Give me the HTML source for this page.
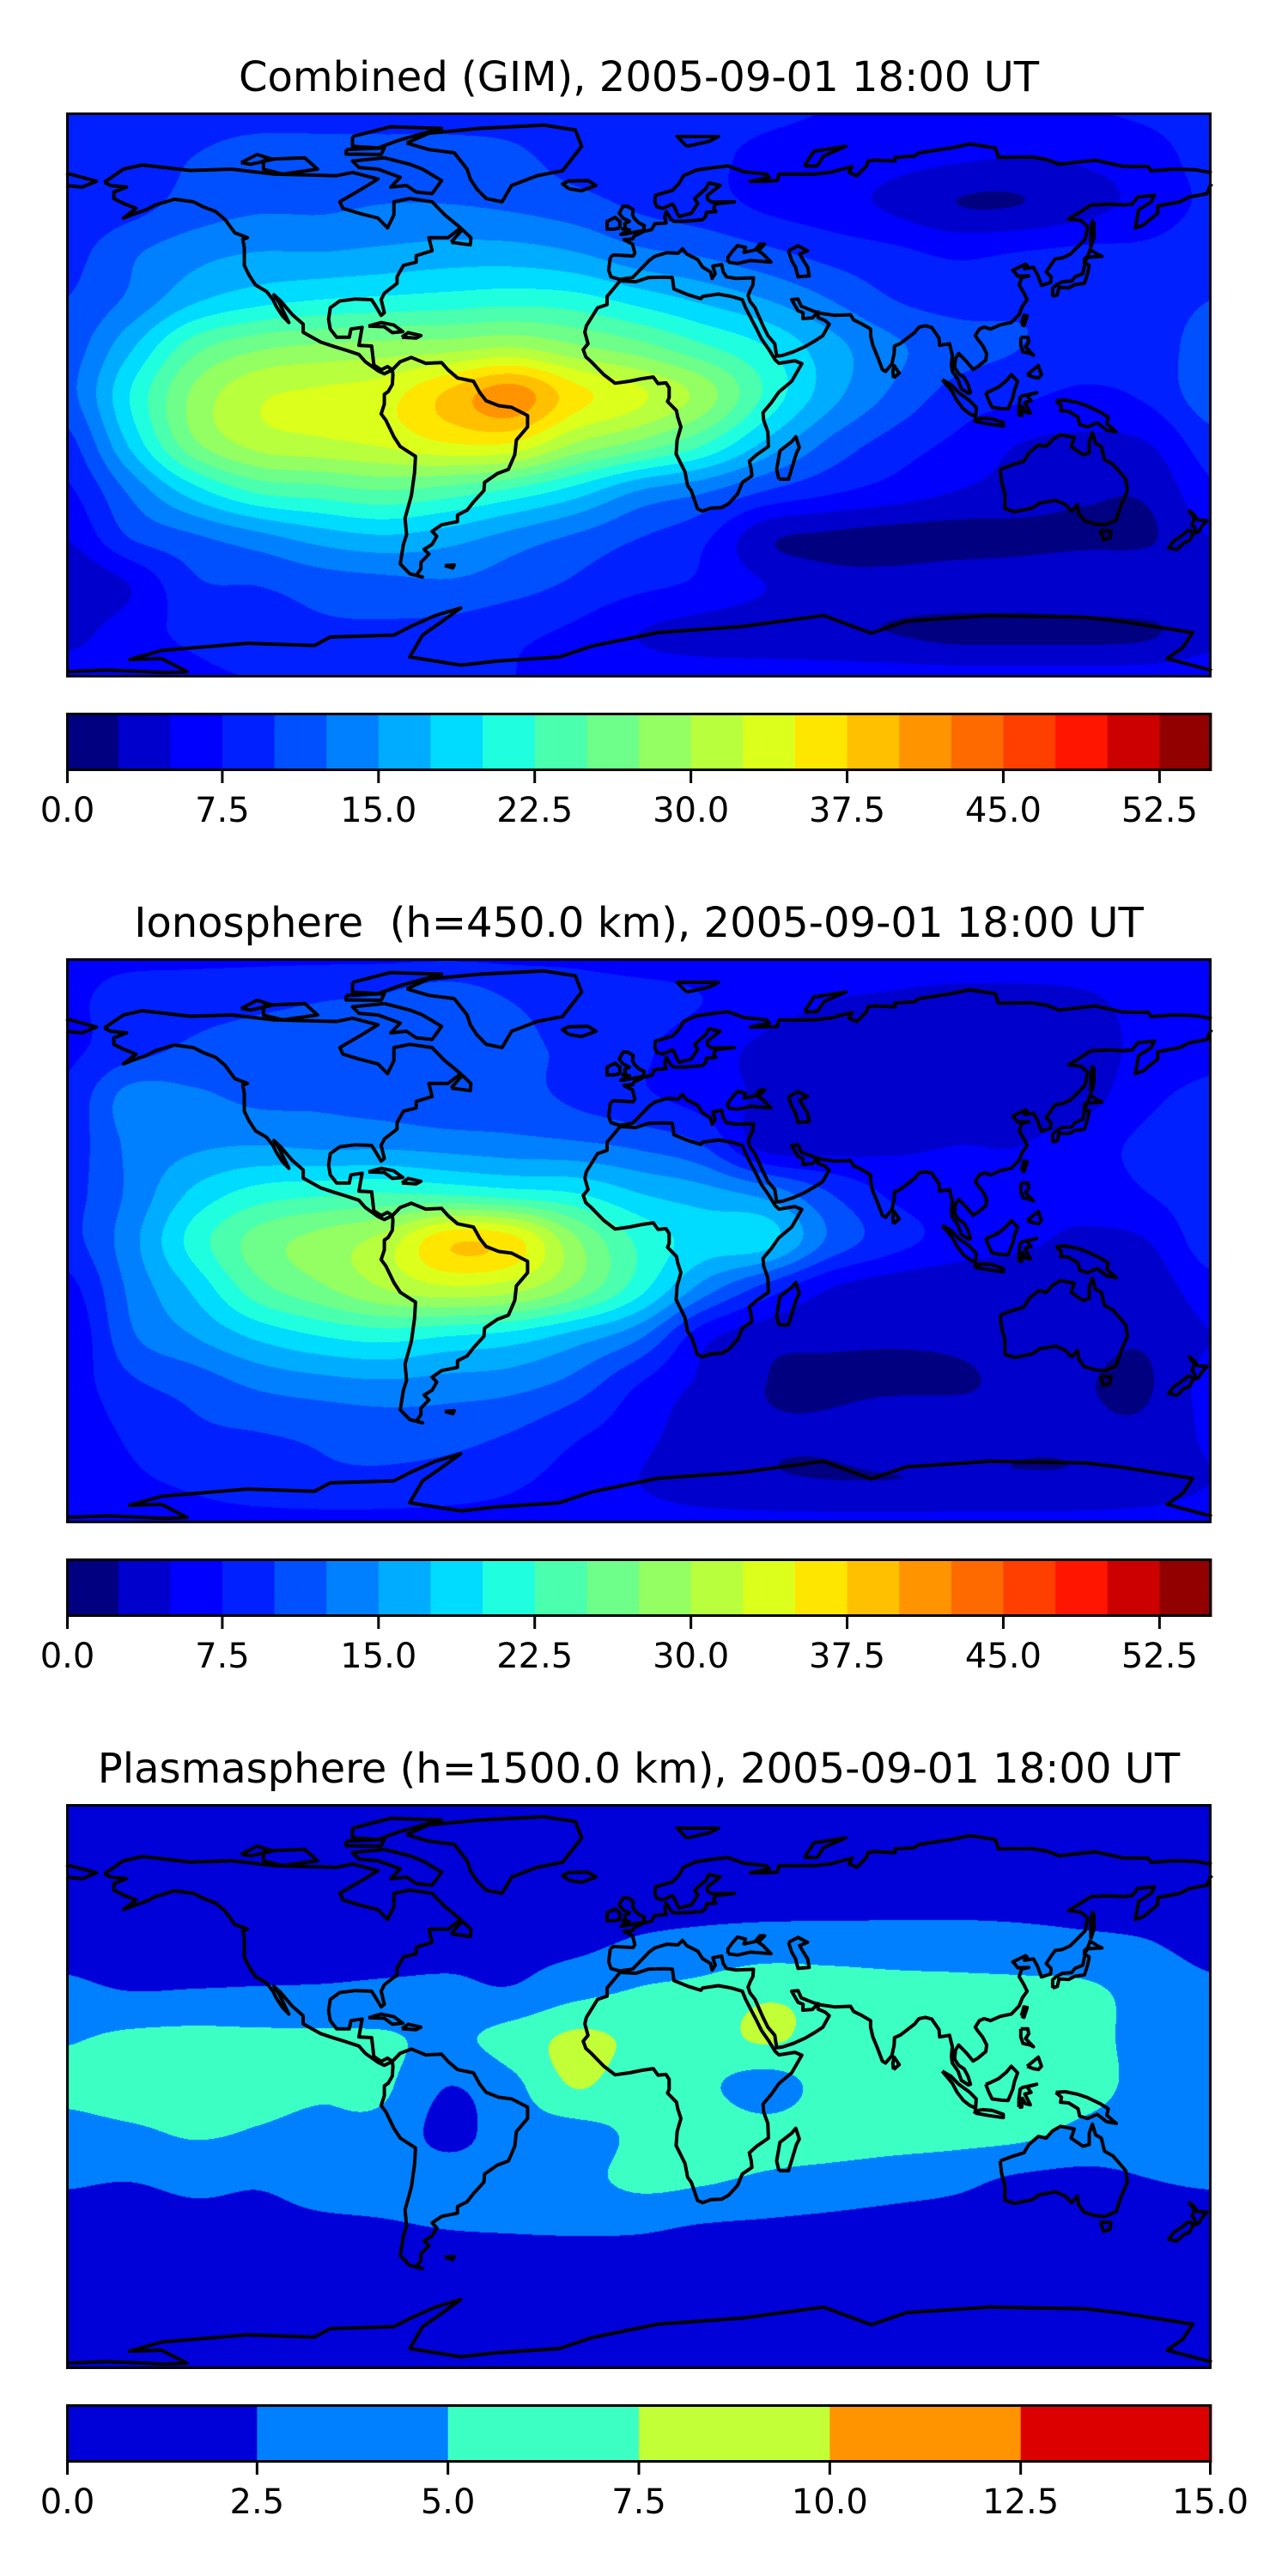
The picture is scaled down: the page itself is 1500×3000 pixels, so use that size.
<!DOCTYPE html>
<html><head><meta charset="utf-8">
<style>
html,body{margin:0;padding:0;background:#fff;}
#wrap{position:relative;width:1500px;height:3000px;overflow:hidden;background:#fff;}
canvas{position:absolute;}
svg{position:absolute;left:0;top:0;}
</style></head>
<body>
<div id="wrap">
<canvas id="c0" width="1334" height="658" style="left:77px;top:131px"></canvas>
<canvas id="c1" width="1334" height="658" style="left:77px;top:1116px"></canvas>
<canvas id="c2" width="1334" height="658" style="left:77px;top:2101px"></canvas>
<svg id="ov" width="1500" height="3000" xmlns="http://www.w3.org/2000/svg"></svg>
</div>
<script>
const lons = [-180,-160,-140,-120,-100,-80,-60,-40,-20,0,20,40,60,80,100,120,140,160,180];
const lats = [90,75,60,45,30,15,0,-15,-30,-45,-60,-75,-90];
const combinedGrid = [
[9,9,9,9,9,9,9,9,9,9,8.5,8,7.5,7.5,7.5,7.5,7.5,8,9],
[8.5,9,10,11,11,11,11,10.5,9,8.5,8,7,6.5,6,5.5,5,5.5,6.5,8.5],
[8,9,11,12,12,12.5,12.5,12,11,9.5,8.5,7,6,4.5,2.5,2.5,4,6,8],
[9,12,14,15,15,15.5,16,16,15,13,12,10.5,9,8,7,7.5,8,8,9],
[10,13,17,19,20,20.5,21,21.5,21,19,17,15,12.5,10,9,9.5,9.5,9,10],
[11,17,24,27,28,28.5,29,30,28,26,23,20,16,13,11,10,9,9,11],
[11.5,20,28,32,33,34,38,41.5,36,33,29,22,16,12,9,8,7,8,11.5],
[9,18,27,31,32,33,35,35,30,27,23,17,12,9,7,5,4.5,5,9],
[7,13,19,23,24,25,24,22,19,15,13,10,8,6.5,5,4,3,3,7],
[5,10,12,14,16,17,16,14,12,10,8,3,2,1.5,1.5,1.8,2,2.2,5],
[2.5,5,9.5,10,11,11.5,12,11,9.5,8,7,5,3.5,3.5,4,4,4.5,4.5,2.5],
[4,6.5,8,9,9.5,9.5,9,8,7,5,4,3.5,3,2.5,1.8,1.8,1.8,2.2,4],
[6.5,6.5,7,7.5,7.5,7.5,7.5,7.5,7,6.5,6.5,6.5,6.5,6.5,6.5,6.5,6.5,6.5,6.5]];
const ionoGrid = [
[7,7,7,7,7,7,7,7,7,6.5,6.5,6.5,6.5,6.5,6.5,6.5,6.5,6.5,7],
[7,8.5,9,9.5,10,10.5,12,10,9,8.5,7.5,6,5,4.5,4,4,4.5,6,7],
[7,9,10.5,11,11,11,11,10.5,9.5,8,6,4.5,3.5,3,2.7,2.7,3.5,6,7],
[8,13.5,13,12,12,11.5,11,11,9.5,8,6.5,4.5,3.5,3,3,3,4,7,8],
[8.5,13,14.5,15,14.5,14.5,14,13.5,13,12,10,4,4,4.5,5,5,6.5,8,8.5],
[9,13,18,21,22,22.5,22,21,20,17.5,16,14,10,7,6,5.5,6,7.5,9],
[9,14,21,26,28.5,31,37,36,28,22,19,18.5,12,8.5,6.5,5.5,4.5,5,9],
[6.5,13,18,24,27,30,32,31,27,21,14,9,5,3.5,3,3,3,3.5,6.5],
[5,12,15,18,20,21,20,19,16.5,13,6,3.5,3,2.8,2.8,3,3,2.8,5],
[6,9.5,11,13,14,14.5,14,13.5,11.5,7.5,4.5,2.5,2,2,2.3,2.8,2.6,2.3,6],
[5.5,8,9.5,10,10.5,11,11,10,8,6,3.5,2.8,3,4.5,3.5,2.8,2.8,3,5.5],
[5,7,8,9,9.5,9.5,9,8,6.5,5,3.5,2.8,2.5,2.5,2.7,2.7,2.8,3.5,5],
[6,6,6.5,6.5,6.5,6.5,6.5,6.5,6,6,6,6,6,6,6,6,6,6,6]];
const plasmaGrid = [
[1,1,1,1,1,1,1,1,1,1,1,1,1,1,1,1,1,1,1],
[1.2,1.2,1.2,1.2,1.2,1.2,1.2,1.2,1.2,1.2,1.2,1.2,1.2,1.2,1.2,1.2,1.2,1.2,1.2],
[1.5,1.5,1.5,1.5,1.5,1.5,1.5,1.5,1.5,1.5,1.6,1.7,1.7,1.7,1.7,1.7,1.6,1.5,1.5],
[1.8,1.5,1.5,1.5,1.3,1.5,1.8,2,2,2.8,3.2,3.5,3.5,3.5,3.5,3.3,3,2.6,1.8],
[3,2.5,2.6,2.7,2.8,3,3,2.7,4.2,5.2,5.7,7,6.5,6,5.8,5.7,5.5,4,3],
[4.8,5.5,5.7,5.5,5.4,5.3,4.5,6,8,7,6.5,7.8,6.5,6.3,6.3,6.3,6,4,4.2],
[5.6,6.2,6,5.4,5.2,5.3,2.5,4.3,7.6,5.8,5.5,3.8,6,6.3,6.3,6.2,5.8,4.3,4.2],
[4,4.5,5.2,4.8,4.5,4.2,1.8,3.8,4,5.5,6.5,6,6.2,6,5.8,5.5,4.3,3.8,3.8],
[2.7,2.5,3,2.7,3.2,3.5,3.8,3.5,4.2,5.5,5.2,4.5,4,3.5,3,2,1.8,2.4,2.7],
[1.5,1.5,1.8,2,2.1,2.2,2.5,2.6,2.7,2.7,2.2,2,1.8,1.6,1.5,1.5,1.5,1.5,1.5],
[1.2,1.2,1.2,1.2,1.2,1.2,1.2,1.2,1.2,1.2,1.2,1.2,1.2,1.2,1.2,1.2,1.2,1.2,1.2],
[1.2,1.2,1.2,1.2,1.2,1.2,1.2,1.2,1.2,1.2,1.2,1.2,1.2,1.2,1.2,1.2,1.2,1.2,1.2],
[1.2,1.2,1.2,1.2,1.2,1.2,1.2,1.2,1.2,1.2,1.2,1.2,1.2,1.2,1.2,1.2,1.2,1.2,1.2]];
const tecColors = ["#000080","#0000cc","#0000ff","#0020ff","#0050ff","#0080ff","#00acff","#00dcff","#1fffe0","#4affad","#6dff8a","#93ff63","#b8ff3e","#dcff1b","#ffe600","#ffc000","#ff9400","#ff6a00","#ff3f00","#ff1500","#cd0000","#930000"];
const plasmaColors = ["#0000d8","#0080ff","#3cffc3","#c3ff36","#ff9400","#dd0000"];
const tecTickLabels = ["0.0","7.5","15.0","22.5","30.0","37.5","45.0","52.5"];
const plasmaTickLabels = ["0.0","2.5","5.0","7.5","10.0","12.5","15.0"];
const titles = ["Combined (GIM), 2005-09-01 18:00 UT","Ionosphere  (h=450.0 km), 2005-09-01 18:00 UT","Plasmasphere (h=1500.0 km), 2005-09-01 18:00 UT"];

const coasts = {
"north-america":[[-168,66],[-162,70],[-156,71.3],[-141,69.6],[-128,70],[-115,68.5],[-95,68],[-90,69],[-82,67],[-87,64],[-94,60],[-93,58],[-88,56.5],[-82,55],[-79,52],[-77,56],[-77,60],[-72,61],[-65,60],[-61,56],[-56,52],[-60,49],[-66,49],[-65,45],[-70,43.5],[-70,41.5],[-74,40.5],[-76,37],[-76,35],[-80,32],[-81,30],[-80,26],[-81,25.2],[-82.7,28],[-84,30],[-89,30.2],[-94,29.6],[-97,27.5],[-97.5,24],[-97,21],[-95,18.5],[-91,18.5],[-90.5,21],[-87,21.5],[-88,16],[-84,15.8],[-83.3,10],[-81,8.5],[-79,9.5],[-77.5,8.5],[-80,7.3],[-82,8.2],[-86,11],[-88,13.2],[-92,14.5],[-96,15.7],[-100,17],[-105.5,20],[-105.5,22.5],[-109,25.5],[-112.5,29.5],[-114.7,31.5],[-113,29],[-110,23],[-112,25],[-114,28],[-115,30],[-117,32.5],[-120.5,34.5],[-122.5,37.5],[-124,40.5],[-124,46],[-124.5,48.5],[-123,49],[-127,50.5],[-130,54.5],[-133,57],[-137,58.5],[-140,60],[-146,60.8],[-152,59],[-155,57.5],[-158,56.5],[-162,55],[-158,58],[-162,59.5],[-165,61],[-165,63],[-161,64.5],[-166,65],[-168,66]],
"greenland":[[-73,78],[-66,81],[-50,82.5],[-30,83.5],[-20,82],[-18,77],[-22,72],[-24,69.5],[-32,68],[-40,65],[-43,60],[-48,61],[-51,64],[-53,67],[-54,70],[-58,75],[-66,76],[-73,78]],
"south-america":[[-77.5,8.5],[-75,11],[-71.5,12.3],[-67,10.5],[-62,10.7],[-60,8.5],[-57,6],[-52,5],[-50,1.5],[-48,-1],[-44,-2.5],[-40,-3],[-35,-5.5],[-35,-9],[-38.5,-13],[-39,-17.5],[-41,-22],[-44.5,-23.3],[-48.5,-26],[-48.7,-28.5],[-52,-32],[-54,-34.5],[-57,-36],[-57,-38],[-62,-39],[-65,-41],[-63.5,-42.5],[-65,-45],[-67.5,-46.5],[-66,-48],[-68.5,-50.5],[-68.5,-52.5],[-70,-54.5],[-68,-55],[-72,-54],[-75,-51],[-74,-45],[-73,-42],[-73.5,-37],[-71.5,-30],[-70.5,-23],[-70.2,-18],[-75,-15],[-77,-12],[-79.5,-7],[-81,-5],[-80,-2],[-80,1],[-78.8,1.8],[-77.5,4],[-77.3,7],[-77.5,8.5]],
"africa":[[-5.9,35.8],[-10,31],[-10,28.5],[-13,27.5],[-16.5,22],[-17,20],[-16,16.5],[-17.5,14.7],[-16.7,12.5],[-15,11],[-13.5,9.5],[-11,7],[-7.5,4.4],[-3,5],[1,5.8],[4.5,6.3],[6,4.3],[8.5,4.5],[9.5,3],[9.5,0],[9,-1.2],[11.8,-4],[12.2,-6],[13.2,-9],[12,-13],[11.7,-17.3],[14.5,-22.8],[15.3,-27],[16.5,-28.6],[18.4,-34.1],[20,-34.8],[22.5,-33.9],[26,-33.7],[28.2,-32.5],[31,-29.5],[32.5,-26],[35.5,-24],[35.3,-22],[34.7,-19.5],[37,-17.5],[40.7,-15],[40.5,-10.5],[39.2,-7],[39,-4.6],[41.5,-1.7],[44,1.7],[48,5],[51.2,10.4],[49,11.3],[44,10.5],[42.8,11.6],[41,14.5],[38.5,18],[37,21],[35.5,23.8],[33.5,27.6],[32.5,30],[29,31],[25,31.7],[20,31],[19.5,30.3],[15.5,31.5],[11,33.3],[10.5,36.8],[8,36.9],[3,36.8],[-1,35.5],[-5.9,35.8]],
"madagascar":[[44,-25],[47,-25],[49.5,-17],[50.4,-15.3],[49.3,-12],[48,-13.5],[44.3,-16.3],[43.3,-22],[44,-25]],
"eurasia":[[-9,43],[-9.5,39],[-8.8,37],[-6,36.2],[-2,36.8],[0,38.8],[3.2,42],[5,43.3],[8.7,44.4],[12.3,44.2],[13.7,45.6],[15,44],[18.5,42.3],[20,40],[22.5,38.5],[23,36.5],[24,38],[23.2,40.3],[26,40.8],[26.5,38.5],[27.5,37],[30.5,36.5],[36,36.7],[35.8,34.5],[35,33],[34.3,31.3],[34.9,29.5],[36.5,27.5],[39,22],[40.5,19],[42.7,16.5],[43.3,12.7],[45,12.9],[48.5,14],[52.2,15.6],[55.5,17.5],[57.8,19],[59.8,22.5],[58.5,23.6],[56.3,24.5],[56.3,26.2],[54.5,24.4],[51.5,24.2],[51.6,26],[50,26.6],[48,30],[50,30.2],[51,28],[54.8,26.5],[57.3,25.8],[61.5,25.2],[66.5,25.4],[67.5,23.8],[70,22.6],[72.8,21],[72.8,19],[73.5,16],[75,12.5],[76.5,8.6],[77.5,8],[79.5,10.3],[80.2,13.5],[80.3,15.8],[82.2,16.6],[86.7,20],[88,21.6],[90,22],[92,21.5],[94.3,18.2],[94.5,16],[97.6,16.5],[98.5,13],[98.2,10],[98.5,8],[100.3,5.5],[101.3,2.7],[103.5,1.3],[104.2,1.5],[103.4,4],[102.2,6.2],[100.5,7.3],[99.2,9.2],[99.5,12],[100.5,13.5],[102,12],[103,11],[105,8.6],[106.5,9.5],[109,11.5],[109.3,13.5],[108,16],[106.5,17.8],[105.7,19],[107,21],[108.5,21.6],[110.5,21],[113.5,22.3],[117,23],[119.5,25.5],[120.5,28],[122,30],[121,32],[119.5,34.5],[120.3,36.8],[122.5,37.3],[119,37.2],[118,38.5],[117.5,39],[121.5,40.9],[122,40.5],[121.2,39.5],[124,39.9],[125.2,37.8],[126.5,34.4],[129.4,35.3],[129.5,37],[128,38.5],[129.7,41],[130.8,42.5],[133,42.8],[135.5,43.9],[138.2,46.5],[140.2,48.5],[141,52.5],[139,54.2],[137,54.5],[135,54.7],[138,56.5],[142,59],[148,59.3],[152,59],[155,59.3],[156.8,61.5],[159.8,61.8],[162,62],[161,60],[157,57.5],[156,52],[158.5,52.9],[163,56.5],[163,58.7],[170,60],[173,61.5],[178.5,62.5],[179.5,64.8],[180,65.5]],
"eurasia-north":[[180,68.9],[175,69.8],[168,70],[161,69.5],[160,70.8],[152,70.9],[143.5,72.7],[140,72.4],[132,71.5],[128,73],[123.5,73.7],[113,73.6],[112,76.5],[104,77.7],[98,76.5],[88,75],[86.5,74],[80.5,73.6],[80.5,72.5],[74,72.8],[72,72.5],[71.5,71],[68.5,68],[66,69],[67,70.8],[60,69],[55,68.5],[53,68.5],[44,68.5],[43.5,66.5],[40,66.3],[35,66.3],[41,67.5],[40,68.5],[33,69.2],[28,71],[23.5,70.5],[18,69.7],[14,68],[12.5,65.5],[10.5,63.5],[5.2,62],[5,60],[5.6,58.5],[7.5,58],[10.5,59.3],[11,58.8],[12,56.5],[12.7,55.5],[14.5,56],[16.5,56.5],[18.5,59.5],[17.5,61],[21,64],[22,65.8],[25.5,65],[21.5,62],[21.5,60.8],[22.8,59.9],[30,60],[24,59.3],[23.5,58],[24.2,57],[21.2,56.8],[21,55.5],[20,54.5],[14,54],[11,54],[10,54.8],[8.6,57],[8.1,55.5],[8.5,53.5],[5,53.3],[4,51.5],[1.5,50.9],[-1.5,49.5],[-2,48.6],[-4.7,48.4],[-2,47],[-1.3,44.3],[-1.8,43.4],[-8,43.7],[-9,43]],
"chukotka":[[-180,65],[-175,64.5],[-172.5,65.5],[-170.5,66.3],[-175,67.5],[-180,68.8]],
"caspian":[[47,45],[50,46.5],[53,45],[50.5,44],[52,41.5],[53,40],[53.5,37.3],[50,37],[49.2,40],[48,42],[47,45]],
"black-sea":[[28,41.5],[28,43],[29.5,45],[31,46.6],[33.5,46],[33,44.5],[36.5,45.2],[38,47],[39.5,47],[37.5,45],[39,44],[41.5,41.5],[35,42],[31,41.1],[28,41.5]],
"great-britain":[[-5,50],[1.4,51.2],[1.7,52.7],[0,53.5],[-1.5,55],[-2,56],[-1.8,57.6],[-3.5,58.6],[-5,58.6],[-6.2,56.5],[-5,55],[-3,54],[-4.5,53.3],[-4.2,52],[-5.2,51.7],[-3,51.4],[-5.7,50],[-5,50]],
"ireland":[[-6,52],[-6,54],[-7.5,55.2],[-10,54],[-10,51.6],[-8,51.6],[-6,52]],
"iceland":[[-22,64],[-24,65.5],[-22,66.4],[-16,66.5],[-13.5,65],[-18,63.4],[-22,64]],
"japan":[[130,31],[131.5,31.5],[132,33.8],[135,33.6],[137,34.6],[140,35],[141,38],[141.5,40.5],[140,41.4],[141,43],[145.5,43.3],[144,44],[141.8,45.4],[141,43.3],[140,42.5],[140,40.5],[139.5,38],[137,37],[136,35.7],[133,35.5],[131,34.4],[130,33.5],[130,31]],
"borneo":[[109,1.5],[110,1.8],[113,3.2],[115.5,5.2],[117,7],[119,5],[118,2.3],[117.5,0],[116,-3.5],[114,-3.4],[111,-3],[110,-1],[109,1.5]],
"sumatra":[[95.3,5.5],[98,4],[100.5,1.5],[104,-1],[106,-3],[105.8,-5.8],[104,-5],[102,-3.5],[100,-1],[98.5,1.8],[95.3,5.5]],
"java":[[105.2,-6.8],[108,-6.3],[111,-6.5],[114.5,-7.7],[114.5,-8.7],[110,-8.1],[106,-7.4],[105.2,-6.8]],
"sulawesi":[[119.4,-5.5],[120.3,-5.5],[120.5,-2.8],[121.5,-4.5],[123,-4.8],[121.3,-1.5],[123.2,-1],[122,0.7],[125,1.5],[120.5,0.5],[119.8,0],[119.4,-3],[119.4,-5.5]],
"new-guinea":[[131,-1],[134,-0.8],[138,-1.6],[141,-2.6],[145,-4.5],[147.5,-6],[147,-8],[150,-10.5],[147,-10],[144,-7.7],[141,-9],[138.5,-8.3],[138,-6],[135,-4.2],[132.5,-4],[132.8,-2.5],[131,-1]],
"luzon":[[120,18.5],[122.2,18.5],[122.5,17],[121.5,15.5],[124,13],[123,13.5],[120.7,14],[120,16],[120,18.5]],
"mindanao":[[122,7],[125.5,9.8],[126.5,7],[125.5,6],[124,6.3],[122,7]],
"taiwan":[[120.2,22.5],[121,25.2],[122,25],[121,22],[120.2,22.5]],
"sakhalin":[[142,46],[143,49],[143,53.5],[142.5,54.2],[142,51],[142,46]],
"sri-lanka":[[80,6],[81.8,7.5],[80.2,9.8],[79.8,8],[80,6]],
"australia":[[113.5,-22],[114,-26],[115,-29.5],[115,-34],[118,-35],[123.5,-33.9],[126,-32.3],[131,-31.5],[134,-32.8],[136,-34.8],[137.8,-32.8],[138.2,-35.5],[140,-37.8],[143.5,-38.8],[146.5,-39],[150,-37.5],[151.5,-33],[153.5,-28.5],[153,-25],[150.8,-22.5],[149,-20.5],[146.3,-19],[145.3,-15],[143.5,-14],[142.5,-10.7],[141.5,-13.5],[141.5,-17],[139.5,-17.5],[135.8,-15],[136.8,-12.2],[132.5,-11.4],[130,-12.8],[128,-15],[125.5,-14.5],[122.5,-17],[121,-19.5],[117,-20.7],[113.5,-22]],
"tasmania":[[145,-40.7],[148.3,-40.9],[148,-43],[146,-43.6],[145,-40.7]],
"nz-north":[[172.7,-34.5],[174.5,-36],[175.5,-37.5],[178.5,-37.7],[177,-39.3],[176,-41],[175,-41.5],[174.6,-39.8],[173.8,-39],[174.6,-37],[172.7,-34.5]],
"nz-south":[[172.7,-40.5],[174.3,-41.5],[173,-43.8],[171.3,-44.5],[169,-46.6],[166.5,-46],[168,-44],[171,-42],[172.7,-40.5]],
"baffin":[[-80,73.5],[-72,71.5],[-68,70],[-62,66.5],[-65,62.5],[-70,63],[-73,65],[-78,64.5],[-75,67.5],[-82,70],[-88,70.5],[-90,72.5],[-80,73.5]],
"victoria-island":[[-118,73],[-105,73.5],[-101,70],[-112,68.5],[-118,70],[-118,73]],
"ellesmere":[[-90,80],[-78,83],[-62,82.5],[-75,79],[-82,76.5],[-90,77],[-90,80]],
"banks-island":[[-125,72],[-120,74.5],[-115,73],[-122,71.5],[-125,72]],
"devon-island":[[-92,76],[-80,76.5],[-81,74.5],[-92,74.6],[-92,76]],
"svalbard":[[15,77],[22,78.5],[25,80],[12,80],[15,77]],
"novaya-zemlya":[[52,71],[55,75.5],[65,77],[58,74],[56,71],[52,71]],
"cuba":[[-85,21.9],[-81,23],[-77,22.2],[-74.2,20.2],[-77.5,19.9],[-80,21.7],[-85,21.9]],
"hispaniola":[[-74.5,18.5],[-72.5,19.9],[-68.5,19],[-70,18.2],[-74.5,18.5]],
"newfoundland":[[-59,47.6],[-53,46.8],[-52.8,49],[-55.5,51.5],[-59,47.6]],
"falklands":[[-61,-51.5],[-58,-51.3],[-58.5,-52.2],[-61,-51.5]],
"antarctica":[[-180,-84],[-167,-83.5],[-149,-84.3],[-142,-84],[-150,-80],[-160,-80.3],[-150,-77.5],[-123,-75.3],[-102,-76],[-97,-73.4],[-77,-72.8],[-72,-70.3],[-64,-66.8],[-56,-64.5],[-62,-68.7],[-68,-72.8],[-72,-79.5],[-56,-82],[-45,-80.8],[-25,-79.5],[-15,-76.2],[6,-72],[32,-70.2],[58,-66.8],[73,-72.2],[84,-68.5],[110,-66.8],[140,-67.3],[151,-68.5],[174,-72],[171,-76.5],[166,-80],[179.5,-83.5],[180,-83.7]]
};

const MAPX=77, MAPW=1334, MAPH=658, PANEL_DY=985, MAP_TOP=131;
const SC=3.706;
const LAT_SC=3.8, EQ_OFF=332;
function xOfLon(lon){return MAPX+(lon+180)*SC;}
function yOfLat(lat,k){return MAP_TOP+k*PANEL_DY+EQ_OFF-lat*LAT_SC;}
function hex(c){return [parseInt(c.substr(1,2),16),parseInt(c.substr(3,2),16),parseInt(c.substr(5,2),16)];}
function cr(p0,p1,p2,p3,t){return p1+0.5*t*(p2-p0+t*(2*p0-5*p1+4*p2-p3+t*(3*(p1-p2)+p3-p0)));}
function sample(g,gx,gy){
  const nx=g[0].length, ny=g.length;
  const ix=Math.floor(gx), iy=Math.floor(gy);
  const tx=gx-ix, ty=gy-iy;
  const row=[];
  for(let j=-1;j<=2;j++){
    const yy=Math.min(ny-1,Math.max(0,iy+j));
    const r=g[yy]; const v=[];
    for(let i=-1;i<=2;i++){const xx=Math.min(nx-1,Math.max(0,ix+i)); v.push(r[xx]);}
    row.push(cr(v[0],v[1],v[2],v[3],tx));
  }
  return cr(row[0],row[1],row[2],row[3],ty);
}
function drawField(id,grid,colors,step){
  const cv=document.getElementById(id), ctx=cv.getContext('2d');
  const img=ctx.createImageData(MAPW,MAPH); const d=img.data;
  const rgb=colors.map(hex);
  const lonStep=lons[1]-lons[0], latStep=lats[0]-lats[1];
  for(let py=0;py<MAPH;py++){
    const lat=(329-(py+0.5))/SC; const gy=(lats[0]-lat)/latStep;
    for(let px=0;px<MAPW;px++){
      const lon=(px+0.5)/SC-180; const gx=(lon-lons[0])/lonStep;
      const v=sample(grid,gx,gy);
      let b=Math.floor(v/step); if(b<0)b=0; if(b>=rgb.length)b=rgb.length-1;
      const o=(py*MAPW+px)*4; const c=rgb[b];
      d[o]=c[0];d[o+1]=c[1];d[o+2]=c[2];d[o+3]=255;
    }
  }
  ctx.putImageData(img,0,0);
}
drawField('c0',combinedGrid,tecColors,2.5);
drawField('c1',ionoGrid,tecColors,2.5);
drawField('c2',plasmaGrid,plasmaColors,2.5);

const NS='http://www.w3.org/2000/svg';
const ov=document.getElementById('ov');
function mk(tag,attrs,parent){const e=document.createElementNS(NS,tag);for(const k in attrs)e.setAttribute(k,attrs[k]);(parent||ov).appendChild(e);return e;}
const panelNames=['combined','ionosphere','plasmasphere'];
for(let k=0;k<3;k++){
  const g=mk('g',{});
  
  
  const t=mk('text',{x:744,y:106+k*PANEL_DY,'text-anchor':'middle','font-family':'"DejaVu Sans","Liberation Sans",sans-serif','font-size':48,fill:'#000'},g);
  t.textContent=titles[k];
  t.setAttribute('xml:space','preserve');
  t.style.whiteSpace='pre';
  
  
  const cg=mk('g',{fill:'none',stroke:'#000','stroke-width':4,'stroke-linejoin':'round'},g);
  
  
  for(const name in coasts){
    const pts=coasts[name].map(p=>xOfLon(p[0]).toFixed(1)+','+yOfLat(p[1],k).toFixed(1)).join(' ');
    const pl=mk('polyline',{points:pts},cg);
    
    
  }
  const fr=mk('rect',{x:78.5,y:MAP_TOP+k*PANEL_DY+1.5,width:MAPW-3,height:MAPH-3,fill:'none',stroke:'#000','stroke-width':3},g);
  
  
  const cols=k<2?tecColors:plasmaColors;
  const labels=k<2?tecTickLabels:plasmaTickLabels;
  const vmax=cols.length*2.5;
  const cbTop=830+k*PANEL_DY, cbH=68;
  const cb=mk('g',{},g);
  
  
  cols.forEach((c,i)=>{
    const x0=MAPX+i*2.5/vmax*MAPW, x1=MAPX+(i+1)*2.5/vmax*MAPW;
    const r=mk('rect',{x:x0,y:cbTop,width:x1-x0+0.5,height:cbH,fill:c},cb);
    
    
  });
  const cf=mk('rect',{x:78.5,y:cbTop+1.5,width:MAPW-3,height:cbH-3,fill:'none',stroke:'#000','stroke-width':3},cb);
  
  
  labels.forEach(l=>{
    const v=parseFloat(l); let x=MAPX+v/vmax*MAPW; if(x<78.5)x=78.5; if(x>1409.5)x=1409.5;
    const tk=mk('line',{x1:x,x2:x,y1:cbTop+cbH,y2:cbTop+cbH+14,stroke:'#000','stroke-width':3},cb);
    
    
    const tl=mk('text',{x:x,y:cbTop+cbH+59,'text-anchor':'middle','font-family':'"DejaVu Sans","Liberation Sans",sans-serif','font-size':40,fill:'#000'},cb);
    tl.textContent=l;
    
    
  });
}
</script>
</body></html>
